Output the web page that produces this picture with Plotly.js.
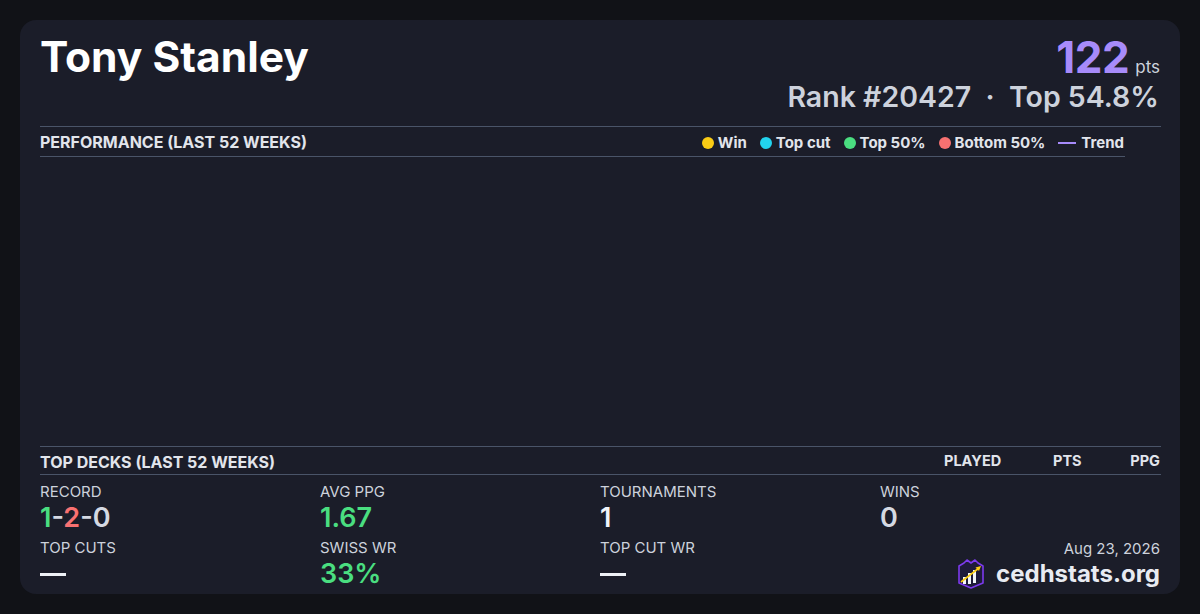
<!DOCTYPE html>
<html>
<head>
<meta charset="utf-8">
<script src="https://cdn.plot.ly/plotly-3.0.1.min.js"></script>
<style>
  html,body{margin:0;padding:0;width:1200px;height:614px;background:#111217;overflow:hidden;font-family:Inter,"Noto Sans",sans-serif;}
  .card{position:absolute;left:20px;top:20px;width:1160px;height:574px;background:#1b1d29;border-radius:16px;}
  .abs{position:absolute;white-space:nowrap;line-height:1.15;}
  .hr{position:absolute;height:1px;background:#4a5468;}
  .sec{font-size:16px;font-weight:700;color:#e2e5ec;}
  .lbl{font-size:15px;color:#cdd2dc;font-weight:400;}
  .val{font-size:27px;font-weight:600;color:#d5d9e2;}
  .leg{display:flex;align-items:center;font-size:15px;font-weight:700;color:#e2e5ec;}
  .leg .it{display:flex;align-items:center;margin-left:13px;}
  .leg .dot{width:12px;height:12px;border-radius:50%;margin-right:4px;}
  .leg .ln{width:18px;height:2px;margin-right:5px;}
  .dash{position:absolute;width:26px;height:3px;background:#eef1f6;}
</style>
</head>
<body>
<div class="card"></div>
<div class="abs" id="name" style="left:40px;top:36px;font-size:42.5px;font-weight:700;color:#ffffff;line-height:1;"></div>
<div class="abs" style="right:40px;top:38px;display:flex;align-items:baseline;line-height:0.9;">
  <span id="pts" style="font-size:44px;font-weight:700;color:#a78bfa;letter-spacing:-0.5px;"></span>
  <span style="font-size:17px;color:#cdd2dc;margin-left:6px;">pts</span>
</div>
<div class="abs" id="rank" style="right:41px;top:83px;font-size:28.5px;font-weight:600;color:#cdd2dc;line-height:1;white-space:pre;"></div>

<div class="hr" style="left:40px;top:126px;width:1121px;"></div>
<div class="abs sec" style="left:40px;top:133px;">PERFORMANCE (LAST 52 WEEKS)</div>
<div class="abs leg" id="legend" style="right:76px;top:134px;"></div>
<div class="hr" style="left:40px;top:156px;width:1085px;"></div>

<div id="chart" style="position:absolute;left:40px;top:157px;width:1085px;height:288px;"></div>

<div class="hr" style="left:40px;top:446px;width:1121px;"></div>
<div class="abs sec" style="left:40px;top:453px;">TOP DECKS (LAST 52 WEEKS)</div>
<div class="abs sec" style="left:944px;top:453px;font-size:14.5px;">PLAYED</div>
<div class="abs sec" style="left:1053px;top:453px;font-size:14.5px;">PTS</div>
<div class="abs sec" style="right:40px;top:453px;font-size:14.5px;">PPG</div>
<div class="hr" style="left:40px;top:474px;width:1121px;"></div>

<div id="stats"></div>

<div class="abs" style="right:40px;top:540px;font-size:15px;color:#cdd2dc;">Aug 23, 2026</div>
<div class="abs" style="right:40px;top:559px;display:flex;align-items:center;">
  <svg width="28" height="30" viewBox="0 0 28 30" style="margin-right:11px;">
    <path d="M2 7 L7 4 L10 1 L14 4 L18 1 L21 4 L26 7 L26 24 L14 29 L2 24 Z" fill="#1e1b3a" stroke="#7c3aed" stroke-width="1.6" stroke-linejoin="round"/>
    <rect x="6" y="18" width="3" height="7" fill="#f1f5f9"/>
    <rect x="11" y="14" width="3" height="11" fill="#f1f5f9"/>
    <rect x="16" y="11" width="3" height="13" fill="#f1f5f9"/>
    <line x1="4" y1="23" x2="22" y2="9" stroke="#facc15" stroke-width="1.6"/>
    <path d="M24 7 L18.5 8.5 L22 12 Z" fill="#facc15"/>
  </svg>
  <span style="font-size:24px;font-weight:700;color:#e8ebf1;">cedhstats.org</span>
</div>

<script>
// ---- data ----
const playerName = "Tony Stanley";
const points = 122;
const rank = 20427;
const topPercent = 54.8;
const legendNames = ["Win", "Top cut", "Top 50%", "Bottom 50%", "Trend"];
const legendColors = ["#facc15", "#22d3ee", "#4ade80", "#f87171", "#a78bfa"];
// weekly performance (no events plotted in the last 52 weeks window)
const weekDates = [];
const winPts = [];
const topCutPts = [];
const top50Pts = [];
const bottom50Pts = [];
const trendPts = [];
const statLabels = ["RECORD", "AVG PPG", "TOURNAMENTS", "WINS", "TOP CUTS", "SWISS WR", "TOP CUT WR"];
const statValues = ["1-2-0", "1.67", "1", "0", "—", "33%", "—"];
const recordParts = [1, 2, 0];

document.getElementById('name').textContent = playerName;
document.getElementById('pts').textContent = points;
document.getElementById('rank').textContent = "Rank #" + rank + "  ·  Top " + topPercent + "%";

// legend
const leg = document.getElementById('legend');
legendNames.forEach((n, i) => {
  const it = document.createElement('div');
  it.className = 'it';
  const m = document.createElement('div');
  m.className = (n === "Trend") ? 'ln' : 'dot';
  m.style.background = legendColors[i];
  it.appendChild(m);
  const t = document.createElement('span');
  t.textContent = n;
  it.appendChild(t);
  leg.appendChild(it);
});

// stats grid
const cols = [40, 320, 600, 880];
const pos = [[0,0],[1,0],[2,0],[3,0],[0,1],[1,1],[2,1]];
const stats = document.getElementById('stats');
statLabels.forEach((l, i) => {
  const [c, r] = pos[i];
  const lb = document.createElement('div');
  lb.className = 'abs lbl';
  lb.style.left = cols[c] + 'px';
  lb.style.top = (483 + r * 56) + 'px';
  lb.textContent = l;
  stats.appendChild(lb);
  if (statValues[i] === "—") {
    const d = document.createElement('div');
    d.className = 'dash';
    d.style.left = cols[c] + 'px';
    d.style.top = (573 + (r - 1) * 56) + 'px';
    stats.appendChild(d);
    return;
  }
  const v = document.createElement('div');
  v.className = 'abs val';
  v.style.left = cols[c] + 'px';
  v.style.top = (502 + r * 56) + 'px';
  if (l === "RECORD") {
    v.innerHTML = '<span style="color:#4ade80">' + recordParts[0] + '</span>-<span style="color:#f87171">' + recordParts[1] + '</span>-<span>' + recordParts[2] + '</span>';
  } else {
    v.textContent = statValues[i];
    if (l === "AVG PPG" || l === "SWISS WR") v.style.color = "#4ade80";
    if (l === "TOURNAMENTS") v.style.color = "#f1f4f8";
  }
  stats.appendChild(v);
});

// chart
const series = [winPts, topCutPts, top50Pts, bottom50Pts];
const traces = series.map((s, i) => ({
  type: 'scatter', mode: 'markers', name: legendNames[i],
  x: weekDates, y: s, marker: {color: legendColors[i], size: 10}
}));
traces.push({type: 'scatter', mode: 'lines', name: 'Trend', x: weekDates, y: trendPts, line: {color: legendColors[4], width: 2}});
Plotly.newPlot('chart', traces, {
  paper_bgcolor: 'rgba(0,0,0,0)', plot_bgcolor: 'rgba(0,0,0,0)',
  margin: {l: 0, r: 0, t: 0, b: 0},
  showlegend: false,
  xaxis: {visible: false, showgrid: false, zeroline: false},
  yaxis: {visible: false, showgrid: false, zeroline: false},
  width: 1085, height: 288
}, {staticPlot: true, displayModeBar: false});
</script>
</body>
</html>
